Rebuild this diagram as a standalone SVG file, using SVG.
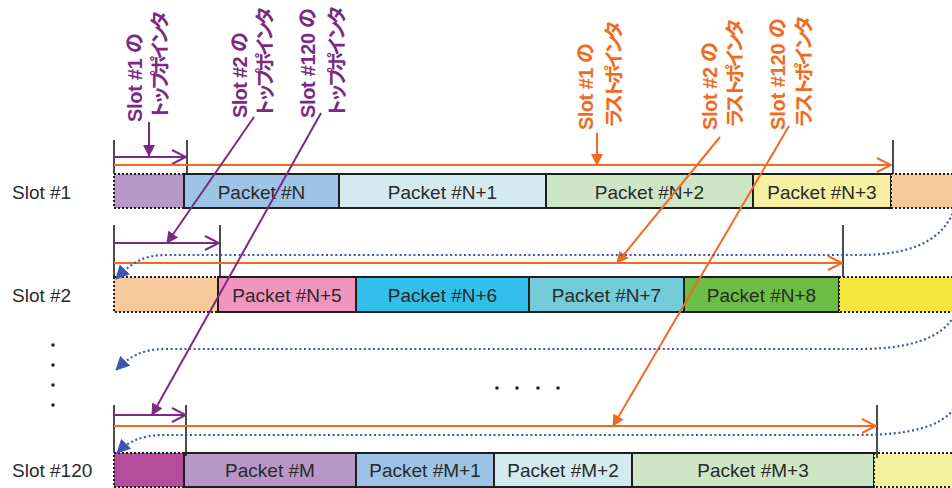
<svg xmlns="http://www.w3.org/2000/svg" width="952" height="488" viewBox="0 0 952 488">
<style>
.bg{fill:#ffffff}
.pk{stroke:#1e1e1e;stroke-width:2}
.dc{stroke:#1e1e1e;stroke-width:2;stroke-dasharray:2 2}
.pt{font-family:"Liberation Sans",Arial,sans-serif;font-size:19px;fill:#2a2a2a;text-anchor:middle}
.sl{font-family:"Liberation Sans",Arial,sans-serif;font-size:19px;fill:#2a2a2a}
.lp,.lo{font-family:"Liberation Sans","Noto Sans CJK JP",sans-serif;font-size:20px;font-weight:bold}
.lp{fill:#7a2a82}
.lo{fill:#f26a22}
.k{font-size:19.5px}
.tk{stroke:#1e1e1e;stroke-width:1.6}
.hp{stroke:#7a2a82;stroke-width:2;fill:none}
.ho{stroke:#f26a22;stroke-width:2;fill:none}
.bd{stroke:#3d57b0;stroke-width:2.2;stroke-dasharray:2 2.6;fill:none}
.dot{fill:#222}
</style>
<defs>
<marker id="openP" markerUnits="userSpaceOnUse" markerWidth="16" markerHeight="16" viewBox="0 0 16 16" refX="15" refY="8" orient="auto"><path d="M1,1 L15,8 L1,15" fill="none" stroke="#7a2a82" stroke-width="2"/></marker>
<marker id="openO" markerUnits="userSpaceOnUse" markerWidth="16" markerHeight="16" viewBox="0 0 16 16" refX="15" refY="8" orient="auto"><path d="M1,1 L15,8 L1,15" fill="none" stroke="#f26a22" stroke-width="2"/></marker>
<marker id="fillP" markerUnits="userSpaceOnUse" markerWidth="12" markerHeight="12" viewBox="0 0 12 12" refX="11" refY="6" orient="auto"><path d="M0,0 L12,6 L0,12 Z" fill="#7a2a82"/></marker>
<marker id="fillO" markerUnits="userSpaceOnUse" markerWidth="12" markerHeight="12" viewBox="0 0 12 12" refX="11" refY="6" orient="auto"><path d="M0,0 L12,6 L0,12 Z" fill="#f26a22"/></marker>
<marker id="fillB" markerUnits="userSpaceOnUse" markerWidth="14" markerHeight="14" viewBox="0 0 14 14" refX="13" refY="7" orient="auto"><path d="M0,0 L14,7 L0,14 Z" fill="#3d57b0"/></marker>
</defs>
<rect class="bg" x="0" y="0" width="952" height="488"/>

<g id="slot-labels">
<text class="sl" x="12" y="199">Slot #1</text>
<text class="sl" x="12" y="302">Slot #2</text>
<text class="sl" x="12" y="477">Slot #120</text>
</g>

<g id="row1">
<rect class="dc" x="114" y="174" width="70" height="34" fill="#b797c7"/>
<g id="pN"><rect class="pk" x="184" y="174" width="155" height="34" fill="#9dc3e6"/><text class="pt" x="261.5" y="199">Packet #N</text></g>
<g id="pN1"><rect class="pk" x="339" y="174" width="207" height="34" fill="#d3eaf0"/><text class="pt" x="442.5" y="199">Packet #N+1</text></g>
<g id="pN2"><rect class="pk" x="546" y="174" width="207" height="34" fill="#cde6c6"/><text class="pt" x="649.5" y="199">Packet #N+2</text></g>
<g id="pN3"><rect class="pk" x="753" y="174" width="138" height="34" fill="#f6f1a2"/><text class="pt" x="822" y="199">Packet #N+3</text></g>
<rect class="dc" x="891" y="174" width="70" height="34" fill="#f8c99a"/>
</g>

<g id="row2">
<rect class="dc" x="114" y="277" width="104" height="35" fill="#f8c99a"/>
<g id="pN5"><rect class="pk" x="218" y="277" width="138" height="35" fill="#f195bf"/><text class="pt" x="287" y="302">Packet #N+5</text></g>
<g id="pN6"><rect class="pk" x="356" y="277" width="173" height="35" fill="#33bfeb"/><text class="pt" x="442.5" y="302">Packet #N+6</text></g>
<g id="pN7"><rect class="pk" x="529" y="277" width="155" height="35" fill="#72ccda"/><text class="pt" x="606.5" y="302">Packet #N+7</text></g>
<g id="pN8"><rect class="pk" x="684" y="277" width="155" height="35" fill="#6cbd45"/><text class="pt" x="761.5" y="302">Packet #N+8</text></g>
<rect class="dc" x="839" y="277" width="122" height="35" fill="#f2e73a"/>
</g>

<g id="row120">
<rect class="dc" x="114" y="453" width="70" height="34" fill="#b44e9b"/>
<g id="pM"><rect class="pk" x="184" y="453" width="172" height="34" fill="#b797c7"/><text class="pt" x="270" y="477">Packet #M</text></g>
<g id="pM1"><rect class="pk" x="356" y="453" width="138" height="34" fill="#9dc3e6"/><text class="pt" x="425" y="477">Packet #M+1</text></g>
<g id="pM2"><rect class="pk" x="494" y="453" width="138" height="34" fill="#d3eaf0"/><text class="pt" x="563" y="477">Packet #M+2</text></g>
<g id="pM3"><rect class="pk" x="632" y="453" width="242" height="34" fill="#cde6c6"/><text class="pt" x="753" y="477">Packet #M+3</text></g>
<rect class="dc" x="874" y="453" width="87" height="34" fill="#f7f19e"/>
</g>

<g id="ellipsis">
<circle class="dot" cx="53" cy="345" r="1.8"/>
<circle class="dot" cx="53" cy="365" r="1.8"/>
<circle class="dot" cx="53" cy="385" r="1.8"/>
<circle class="dot" cx="53" cy="405" r="1.8"/>
<circle class="dot" cx="497" cy="388" r="1.8"/>
<circle class="dot" cx="517" cy="388" r="1.8"/>
<circle class="dot" cx="538" cy="388" r="1.8"/>
<circle class="dot" cx="558" cy="388" r="1.8"/>
</g>

<g id="top-labels">
<text class="lp" transform="translate(142,122) rotate(-90)" textLength="89" lengthAdjust="spacing">Slot #1 の</text>
<text class="lp k" transform="translate(167,120) rotate(-90)" textLength="110" lengthAdjust="spacing">トップポインタ</text>
<text class="lp" transform="translate(247,118) rotate(-90)" textLength="86" lengthAdjust="spacing">Slot #2 の</text>
<text class="lp k" transform="translate(272,118) rotate(-90)" textLength="112" lengthAdjust="spacing">トップポインタ</text>
<text class="lp" transform="translate(315,118) rotate(-90)" textLength="110" lengthAdjust="spacing">Slot #120 の</text>
<text class="lp k" transform="translate(344,118) rotate(-90)" textLength="113" lengthAdjust="spacing">トップポインタ</text>
</g>

<g id="last-labels">
<text class="lo" transform="translate(593,130) rotate(-90)" textLength="87" lengthAdjust="spacing">Slot #1 の</text>
<text class="lo k" transform="translate(621,128) rotate(-90)" textLength="108" lengthAdjust="spacing">ラストポインタ</text>
<text class="lo" transform="translate(717,130) rotate(-90)" textLength="88" lengthAdjust="spacing">Slot #2 の</text>
<text class="lo k" transform="translate(742,128) rotate(-90)" textLength="110" lengthAdjust="spacing">ラストポインタ</text>
<text class="lo" transform="translate(785,130) rotate(-90)" textLength="112" lengthAdjust="spacing">Slot #120 の</text>
<text class="lo k" transform="translate(811,128) rotate(-90)" textLength="113" lengthAdjust="spacing">ラストポインタ</text>
</g>

<g id="connectors">
<line class="tk" x1="114" y1="140" x2="114" y2="174"/>
<line class="tk" x1="187" y1="140" x2="187" y2="174"/>
<line class="tk" x1="893" y1="140" x2="893" y2="174"/>
<line class="tk" x1="114" y1="225" x2="114" y2="277"/>
<line class="tk" x1="220" y1="225" x2="220" y2="277"/>
<line class="tk" x1="843" y1="225" x2="843" y2="277"/>
<line class="tk" x1="114" y1="405" x2="114" y2="453"/>
<line class="tk" x1="186" y1="405" x2="186" y2="456"/>
<line class="tk" x1="877" y1="405" x2="877" y2="458"/>
<line class="hp" x1="114" y1="157" x2="186" y2="157" marker-end="url(#openP)"/>
<line class="ho" x1="114" y1="165" x2="891" y2="165" marker-end="url(#openO)"/>
<line class="hp" x1="114" y1="243" x2="219" y2="243" marker-end="url(#openP)"/>
<line class="ho" x1="114" y1="263" x2="842" y2="263" marker-end="url(#openO)"/>
<line class="hp" x1="114" y1="415" x2="186" y2="415" marker-end="url(#openP)"/>
<line class="ho" x1="114" y1="426" x2="876" y2="426" marker-end="url(#openO)"/>
<line class="hp" x1="149" y1="122" x2="149" y2="156" marker-end="url(#fillP)"/>
<line class="hp" x1="254" y1="117" x2="167" y2="243" marker-end="url(#fillP)"/>
<line class="hp" x1="321" y1="113" x2="152" y2="415" marker-end="url(#fillP)"/>
<line class="ho" x1="597" y1="133" x2="597" y2="165" marker-end="url(#fillO)"/>
<line class="ho" x1="720" y1="137" x2="617" y2="263" marker-end="url(#fillO)"/>
<line class="ho" x1="789" y1="126" x2="613" y2="426" marker-end="url(#fillO)"/>
<path class="bd" d="M956 205 C944 244 905 255 860 255 L165 255 C142 255 129 265 116 279" marker-end="url(#fillB)"/>
<path class="bd" d="M956 312 C944 340 905 349 860 349 L165 349 C142 349 129 357 116 370" marker-end="url(#fillB)"/>
<path class="bd" d="M956 405 C944 428 905 435 860 435 L165 435 C142 435 129 441 117 453" marker-end="url(#fillB)"/>
</g>
</svg>
